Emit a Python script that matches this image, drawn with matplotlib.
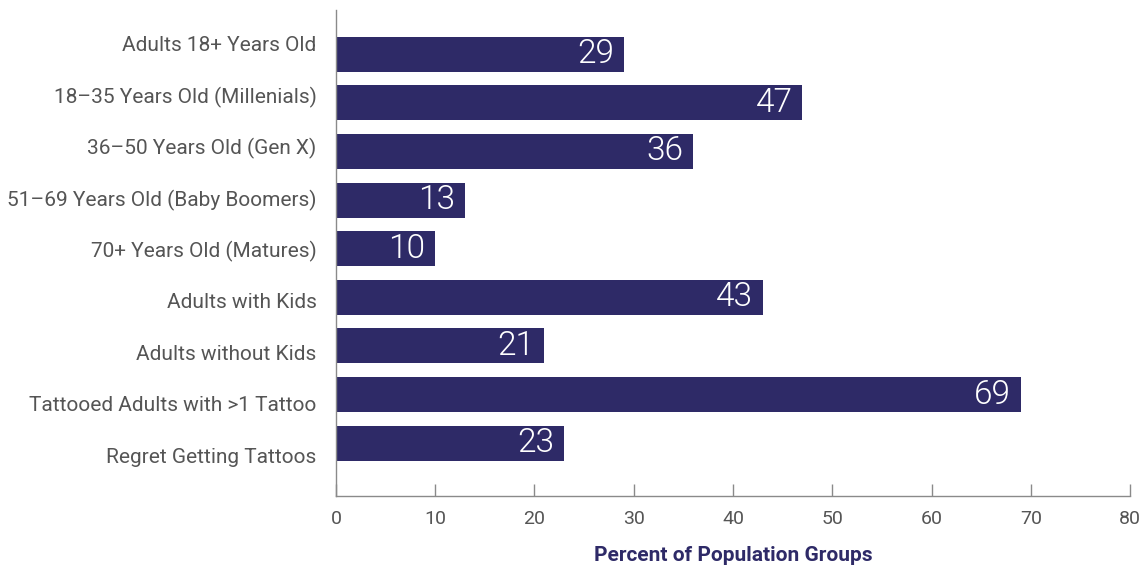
import matplotlib
matplotlib.use("Agg")
import matplotlib.pyplot as plt

categories = [
    "Adults 18+ Years Old",
    "18\u201335 Years Old (Millenials)",
    "36\u201350 Years Old (Gen X)",
    "51\u201369 Years Old (Baby Boomers)",
    "70+ Years Old (Matures)",
    "Adults with Kids",
    "Adults without Kids",
    "Tattooed Adults with >1 Tattoo",
    "Regret Getting Tattoos",
]
values = [29, 47, 36, 13, 10, 43, 21, 69, 23]
xticks = [0, 10, 20, 30, 40, 50, 60, 70, 80]

navy = "#2e2a67"
gray = "#555555"
spine_gray = "#8a8a8a"

plt.rcParams['font.family'] = ['Roboto', 'DejaVu Sans']

fig = plt.figure(figsize=(11.42, 5.67), dpi=100)
ax = fig.add_axes([0.2942, 0.125, 0.6953, 0.857])

pos = list(range(len(categories)))
ax.barh(pos, values, height=0.72, color=navy)
for p, v in zip(pos, values):
    ax.annotate(str(v), xy=(v, p), xytext=(-10, 0), textcoords="offset pixels",
                ha="right", va="center", color="white", fontsize=24,
                fontweight=300)

# category labels in the reference are spaced slightly wider than the bars
label_pos = [-0.226 + 1.059 * p for p in pos]

ax.set_xlim(0, 80)
ax.set_ylim(8 + 1.09, -0.905)
ax.set_yticks(label_pos)
ax.set_yticklabels(categories, fontsize=15, color=gray)
ax.set_xticks(xticks)
ax.set_xticklabels([str(t) for t in xticks], fontsize=14, color=gray)
ax.tick_params(axis="y", length=0, pad=14)
ax.tick_params(axis="x", direction="in", length=9, width=1, color=spine_gray, pad=10)

for s in ["top", "right"]:
    ax.spines[s].set_visible(False)
for s in ["left", "bottom"]:
    ax.spines[s].set_color(spine_gray)
    ax.spines[s].set_linewidth(1)

ax.set_xlabel("Percent of Population Groups", fontsize=15, fontweight="bold",
              color=navy, labelpad=13)

fig.savefig("out.png", dpi=100)
